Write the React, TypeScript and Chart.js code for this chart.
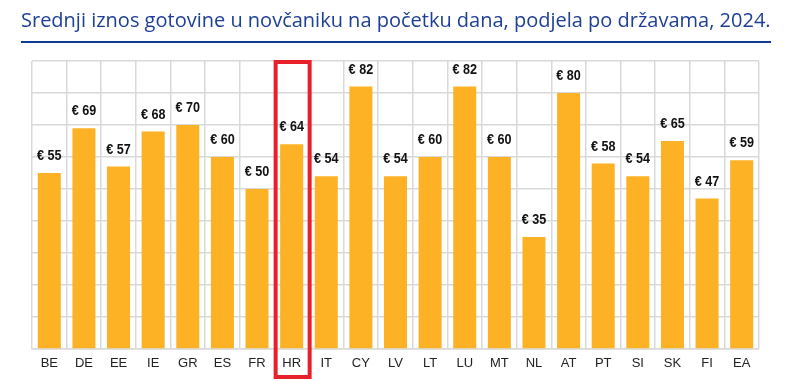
import { useEffect, useRef } from "react";
import { Chart, registerables } from "chart.js";
Chart.register(...registerables);

const titleText = "Srednji iznos gotovine u novčaniku na početku dana, podjela po državama, 2024.";
const categories = ["BE", "DE", "EE", "IE", "GR", "ES", "FR", "HR", "IT", "CY", "LV", "LT", "LU", "MT", "NL", "AT", "PT", "SI", "SK", "FI", "EA"];
const values = [55, 69, 57, 68, 70, 60, 50, 64, 54, 82, 54, 60, 82, 60, 35, 80, 58, 54, 65, 47, 59];
const highlightCategory = "HR";
const currencyPrefix = "€ ";

export default function App() {
  const ref = useRef<HTMLCanvasElement>(null);
  useEffect(() => {
    const labelPlugin = {
      id: "valueLabels",
      afterDatasetsDraw(chart: any) {
        const ctx = chart.ctx;
        const meta = chart.getDatasetMeta(0);
        meta.data.forEach((bar: any, i: number) => {
          ctx.save();
          ctx.font = "bold 15px 'Liberation Sans', Arial, sans-serif";
          ctx.fillStyle = "#111111";
          ctx.textAlign = "center";
          ctx.textBaseline = "middle";
          ctx.translate(bar.x, bar.y - 17);
          ctx.scale(0.84, 1);
          ctx.fillText(currencyPrefix + values[i], 0, 0);
          ctx.restore();
        });
      },
    };
    const boxPlugin = {
      id: "highlightBox",
      afterDraw(chart: any) {
        const idx = categories.indexOf(highlightCategory);
        if (idx < 0) return;
        const x = chart.scales.x;
        const area = chart.chartArea;
        const cx = x.getPixelForValue(idx);
        const ctx = chart.ctx;
        ctx.save();
        ctx.strokeStyle = "#E8202A";
        ctx.lineWidth = 4;
        ctx.strokeRect(cx - 16, area.top + 1, 34, area.bottom + 28 - (area.top + 1));
        ctx.restore();
      },
    };
    const chart = new Chart(ref.current as HTMLCanvasElement, {
      type: "bar",
      data: {
        labels: categories,
        datasets: [
          {
            data: values,
            backgroundColor: "#FDB226",
            barPercentage: 0.665,
            categoryPercentage: 1,
          },
        ],
      },
      options: {
        animation: false,
        responsive: false,
        maintainAspectRatio: false,
        layout: { padding: { left: 32, right: 29, top: 61, bottom: 0 } },
        plugins: { legend: { display: false }, tooltip: { enabled: false } },
        scales: {
          x: {
            grid: { color: "#d9d9d9", drawTicks: false, offset: true, lineWidth: 1.5 },
            border: { color: "#d9d9d9", width: 1.5 },
            ticks: {
              color: "#222222",
              font: { family: "'Liberation Sans', Arial, sans-serif", size: 13 },
              padding: 7,
              maxRotation: 0,
              autoSkip: false,
            },
            afterFit: (s: any) => {
              s.height = 32;
            },
          },
          y: {
            min: 0,
            max: 90,
            ticks: { stepSize: 10, display: false },
            grid: { color: "#d9d9d9", drawTicks: false, lineWidth: 1.5 },
            border: { display: false },
            afterFit: (s: any) => {
              s.width = 0;
            },
          },
        },
      },
      plugins: [labelPlugin, boxPlugin],
    } as any);
    return () => chart.destroy();
  }, []);
  return (
    <div style={{ position: "absolute", left: 0, top: 0, width: 788, height: 381, background: "#fff" }}>
      <canvas ref={ref} width={788} height={381} style={{ position: "absolute", left: 0, top: 0 }} />
      <div
        style={{
          position: "absolute",
          left: 21,
          top: 6,
          fontFamily: "'Open Sans', sans-serif",
          fontSize: 20,
          color: "#1D3F96",
          whiteSpace: "nowrap",
          lineHeight: "normal",
        }}
      >
        {titleText}
      </div>
      <div style={{ position: "absolute", left: 21, top: 41, width: 750, height: 2, background: "#0B3A99" }} />
    </div>
  );
}
